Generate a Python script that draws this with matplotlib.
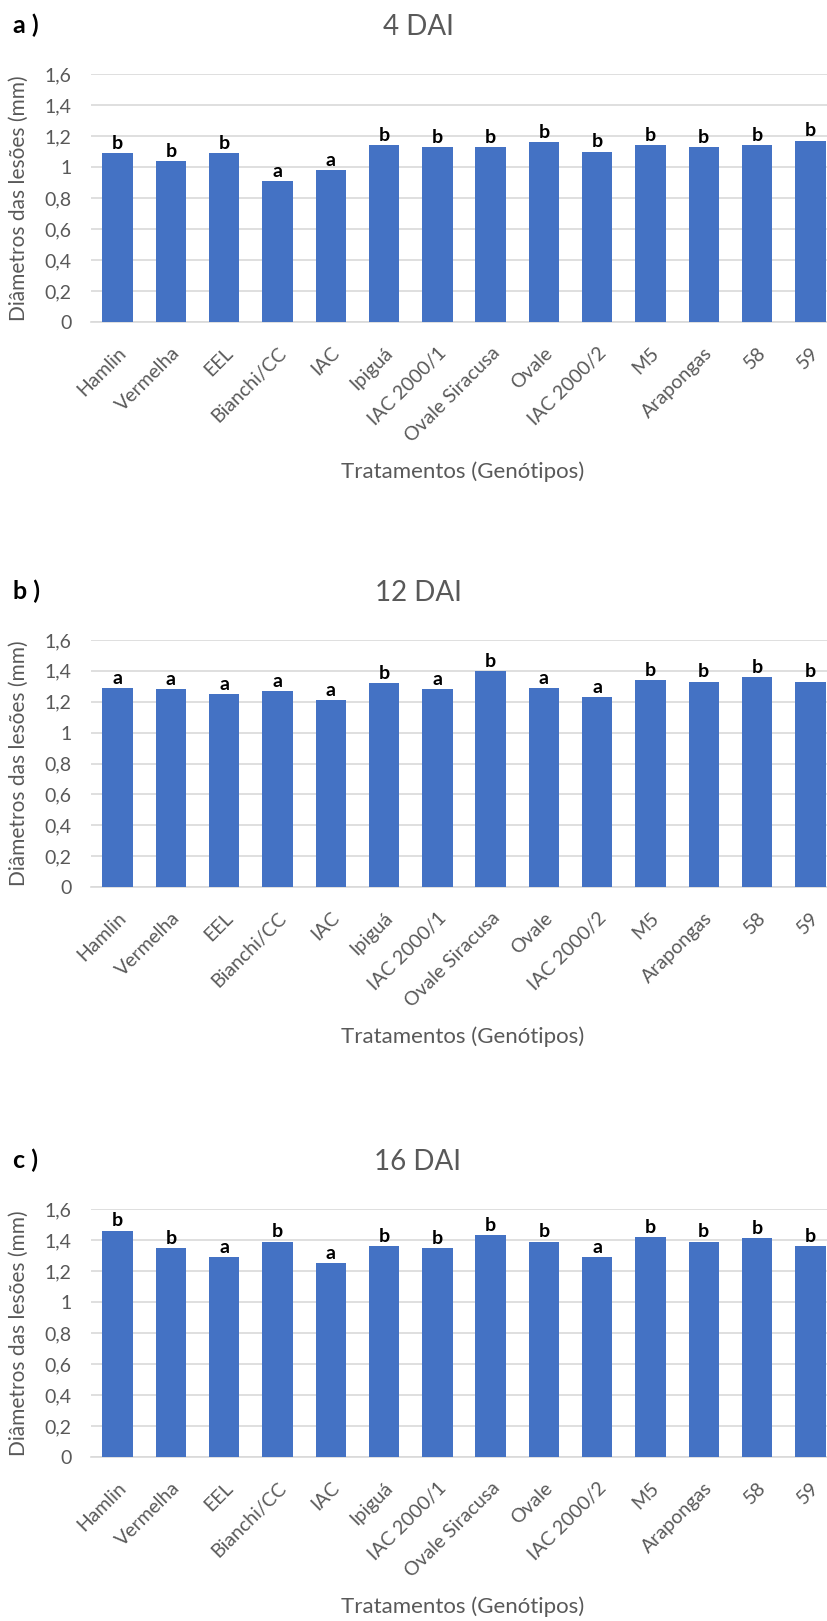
import matplotlib.pyplot as plt
import numpy as np

plt.rcParams['font.family'] = ['Lato', 'DejaVu Sans']

# genotypes (treatments)
genotipos = ['Hamlin', 'Vermelha', 'EEL', 'Bianchi/CC', 'IAC', 'Ipiguá',
             'IAC 2000/1', 'Ovale Siracusa', 'Ovale', 'IAC 2000/2', 'M5',
             'Arapongas', '58', '59']

# mean lesion diameter (mm) at each evaluation date
diam_4dai = [1.09, 1.04, 1.09, 0.91, 0.98, 1.14, 1.13, 1.13, 1.16, 1.10,
             1.14, 1.13, 1.14, 1.17]
diam_12dai = [1.29, 1.28, 1.25, 1.27, 1.21, 1.32, 1.28, 1.40, 1.29, 1.23,
              1.34, 1.33, 1.36, 1.33]
diam_16dai = [1.46, 1.35, 1.29, 1.39, 1.25, 1.36, 1.35, 1.43, 1.39, 1.29,
              1.42, 1.39, 1.41, 1.36]

# Tukey letters
letras_4dai = ['b', 'b', 'b', 'a', 'a', 'b', 'b', 'b', 'b', 'b', 'b', 'b', 'b', 'b']
letras_12dai = ['a', 'a', 'a', 'a', 'a', 'b', 'a', 'b', 'a', 'a', 'b', 'b', 'b', 'b']
letras_16dai = ['b', 'b', 'a', 'b', 'a', 'b', 'b', 'b', 'b', 'a', 'b', 'b', 'b', 'b']

painel = ['a )', 'b )', 'c )']
titulos = ['4 DAI', '12 DAI', '16 DAI']

W, H = 827, 1621
fig = plt.figure(figsize=(W / 100, H / 100), dpi=100)

gray = '#595959'
blue = '#4472C4'
grid = '#D9D9D9'

# pixel layout of each panel: (top of axis, bottom of axis, title y, xlabel y)
layout = [(74, 322, 25, 472),
          (640, 887, 591, 1037),
          (1209, 1457, 1160, 1607)]
left, right = 91, 837

series = [(diam_4dai, letras_4dai), (diam_12dai, letras_12dai), (diam_16dai, letras_16dai)]
x = np.arange(len(genotipos))

for i, (vals, letras) in enumerate(series):
    top, bot, ty, xly = layout[i]
    ax = fig.add_axes([left / W, 1 - bot / H, (right - left) / W, (bot - top) / H])
    ax.bar(x, vals, width=0.57, color=blue, zorder=3)
    for xi, v, l in zip(x, vals, letras):
        ax.text(xi, v + 0.008, l, ha='center', va='bottom', fontsize=14,
                fontweight='bold', color='black')
    ax.set_xlim(-0.5, len(genotipos) - 0.5)
    ax.set_ylim(0, 1.6)
    yt = np.arange(0, 1.61, 0.2)
    ax.set_yticks(yt)
    ax.set_yticklabels(['0', '0,2', '0,4', '0,6', '0,8', '1', '1,2', '1,4', '1,6'])
    ax.set_xticks(x)
    ax.set_xticklabels(genotipos, rotation=45, ha='right', va='top',
                       rotation_mode='anchor')
    ax.tick_params(axis='y', length=0, pad=14, labelsize=14, labelcolor=gray)
    ax.tick_params(axis='x', length=0, pad=16, labelsize=14, labelcolor=gray)
    ax.grid(axis='y', color=grid, linewidth=1.2, zorder=0)
    for s in ['top', 'right', 'left']:
        ax.spines[s].set_visible(False)
    ax.spines['bottom'].set_color(grid)
    ax.spines['bottom'].set_linewidth(1.2)
    ax.set_ylabel('Diâmetros das lesões (mm)', fontsize=15, color=gray)
    ax.yaxis.set_label_coords(-0.083, 0.5)

    fig.text(13 / W, 1 - ty / H, painel[i], fontsize=18, fontweight='bold',
             color='black', ha='left', va='center')
    fig.text(418 / W, 1 - (ty + 2) / H, titulos[i], fontsize=20, color=gray,
             ha='center', va='center')
    fig.text(463 / W, 1 - xly / H, 'Tratamentos (Genótipos)', fontsize=16,
             color=gray, ha='center', va='center')

fig.savefig('out.png', dpi=100)
